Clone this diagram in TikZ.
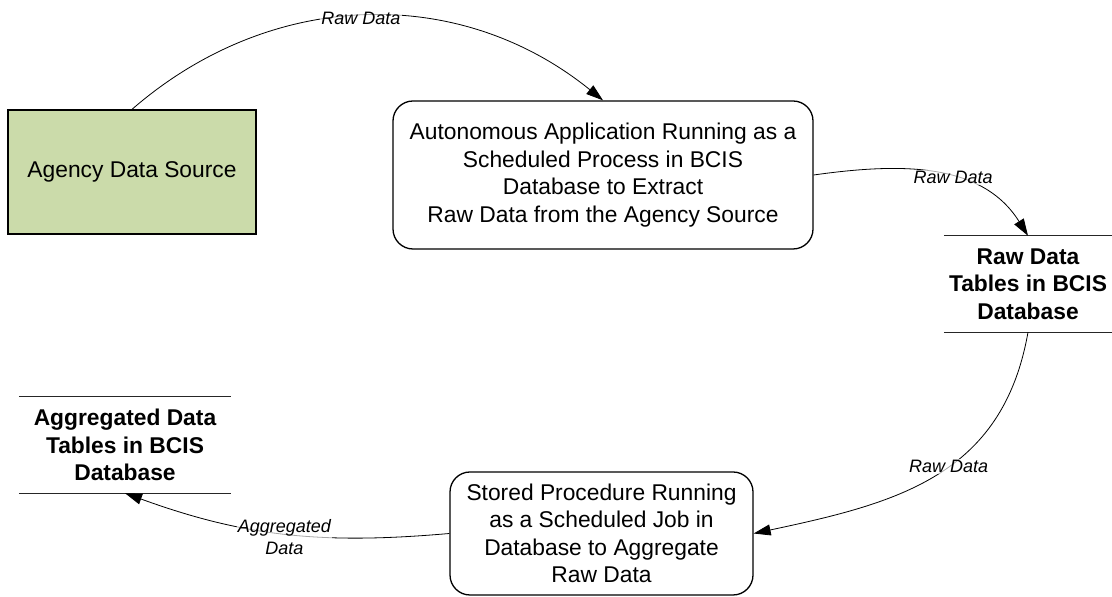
\documentclass[tikz,border=0pt]{standalone}
\usepackage{fontspec}
\setmainfont{Liberation Sans}
\usetikzlibrary{arrows.meta}
\definecolor{sourcegreen}{RGB}{203,219,170}
\tikzset{
  proc/.style={draw=black, line width=1.3bp, rounded corners=20bp, align=center,
    inner sep=0pt, font=\fontsize{22.8bp}{27.5bp}\selectfont},
  srcbox/.style={draw=black, line width=1.3bp, fill=sourcegreen, align=center,
    inner sep=0pt, font=\fontsize{22.8bp}{27.5bp}\selectfont},
  store/.style={align=center, inner sep=0pt,
    font=\fontsize{22.8bp}{27.5bp}\selectfont\bfseries},
  storeline/.style={line width=1.2bp, draw=black!85},
  flow/.style={line width=0.8bp, -{Triangle[length=17bp,width=11bp]}},
  flowlabel/.style={font=\fontsize{18bp}{21.5bp}\selectfont\itshape, align=center,
    fill=white, fill opacity=0.65, text opacity=1, inner sep=1bp}
}
\begin{document}
\begin{tikzpicture}[x=1bp, y=1bp]
  \useasboundingbox (0,0) rectangle (1112,597);

  % process and data-store nodes
  \node[srcbox, minimum width=248bp, minimum height=124bp] (agency) at (132,425)
    {Agency Data Source};
  \node[proc, minimum width=420bp, minimum height=148bp] (autoapp) at (603,422)
    {Autonomous Application Running as a\\Scheduled Process in BCIS\\Database to Extract\\Raw Data from the Agency Source};
  \node[store, minimum width=168bp, minimum height=96bp] (rawtab) at (1028,313)
    {Raw Data\\Tables in BCIS\\Database};
  \node[store, minimum width=212bp, minimum height=96bp] (aggtab) at (125,152)
    {Aggregated Data\\Tables in BCIS\\Database};
  \node[proc, minimum width=303bp, minimum height=123bp] (storedproc) at (601.5,63.5)
    {Stored Procedure Running\\as a Scheduled Job in\\Database to Aggregate\\Raw Data};

  % data-store borders (top and bottom rules only)
  \draw[storeline] (rawtab.north west) -- (rawtab.north east);
  \draw[storeline] (rawtab.south west) -- (rawtab.south east);
  \draw[storeline] (aggtab.north west) -- (aggtab.north east);
  \draw[storeline] (aggtab.south west) -- (aggtab.south east);

  % data flows
  \draw[flow] (agency.north) to[out=41, in=141]
    node[flowlabel, pos=0.49, yshift=-2bp] {Raw Data} (autoapp.north);
  \draw[flow] (autoapp.east) to[out=8, in=122]
    node[flowlabel, pos=0.58] {Raw Data} (rawtab.north);
  \draw[flow] (rawtab.south) to[out=260, in=12, looseness=1.1]
    node[flowlabel, pos=0.45] {Raw Data} (storedproc.east);
  \draw[flow] (storedproc.west) to[out=185, in=-20]
    node[flowlabel, pos=0.5, yshift=-3bp] {Aggregated\\Data} (aggtab.south);
\end{tikzpicture}
\end{document}
